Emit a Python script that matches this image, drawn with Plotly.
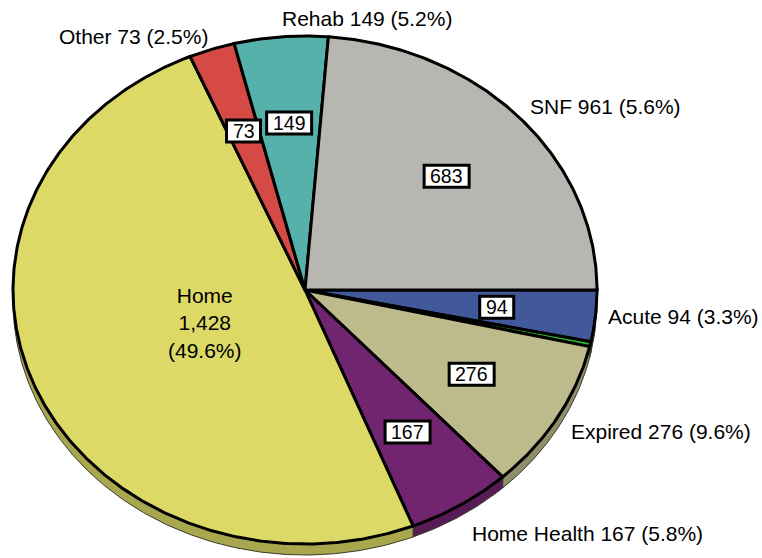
import numpy as np
import plotly.graph_objects as go

# ---- data (clockwise from 3 o'clock) ----
categories = ["Acute", "Unspecified", "Expired", "Home Health", "Home", "Other", "Rehab", "SNF"]
values = [94, 9, 276, 167, 1428, 73, 149, 683]
outer_labels = ["Acute 94 (3.3%)", "", "Expired 276 (9.6%)", "Home Health 167 (5.8%)",
                "", "Other 73 (2.5%)", "Rehab 149 (5.2%)", "SNF 961 (5.6%)"]
box_labels = ["94", "", "276", "167", "", "73", "149", "683"]
center_labels = ["", "", "", "", "Home<br>1,428<br>(49.6%)", "", "", ""]
colors = ["#41599A", "#2DB52D", "#BDBA8B", "#72256F", "#DCD966", "#D54A45", "#55B1A9", "#B8B6B0"]

# ---- geometry (pixel space) ----
W, H = 762, 558
CX, CY = 305, 290
RX, RY = 292, 254
DEPTH = 11
FONT = "Liberation Sans, Arial, sans-serif"


def darker(hexc, f=0.77):
    r, g, b = int(hexc[1:3], 16), int(hexc[3:5], 16), int(hexc[5:7], 16)
    return "rgb(%d,%d,%d)" % (r * f, g * f, b * f)


total = float(sum(values))
cum = np.concatenate([[0], np.cumsum(values)]) / total * 360.0

fig = go.Figure()

# rims (visible lower half: angles 0..180, screen y down)
for i, v in enumerate(values):
    a, b = max(cum[i], 0), min(cum[i + 1], 180)
    if b <= a:
        continue
    t = np.radians(np.linspace(a, b, max(int((b - a) * 2), 2)))
    xt = CX + RX * np.cos(t)
    yt = CY + RY * np.sin(t)
    xs = np.concatenate([xt, xt[::-1], xt[:1]])
    ys = np.concatenate([yt, yt[::-1] + DEPTH, yt[:1]])
    fig.add_trace(go.Scatter(x=xs, y=ys, mode="lines", fill="toself",
                             fillcolor=darker(colors[i]),
                             line=dict(color="#3a3a2a", width=1),
                             hoverinfo="skip", showlegend=False))

# top faces
for i, v in enumerate(values):
    a, b = cum[i], cum[i + 1]
    t = np.radians(np.linspace(a, b, max(int((b - a) * 2), 2)))
    xs = np.concatenate([[CX], CX + RX * np.cos(t), [CX]])
    ys = np.concatenate([[CY], CY + RY * np.sin(t), [CY]])
    fig.add_trace(go.Scatter(x=xs, y=ys, mode="lines", fill="toself",
                             fillcolor=colors[i], line=dict(color="black", width=3),
                             name=categories[i], hoverinfo="name", showlegend=False))

annotations = []
shapes = []
for i, v in enumerate(values):
    mid = np.radians((cum[i] + cum[i + 1]) / 2)
    c, s = np.cos(mid), np.sin(mid)
    # boxed value labels
    if box_labels[i]:
        bx = CX + RX * 0.66 * c
        by = CY + RY * 0.66 * s
        w = 11 * len(box_labels[i]) + 12
        shapes.append(dict(type="rect", xref="x", yref="y", xsizemode="pixel", ysizemode="pixel",
                           xanchor=bx, yanchor=by, x0=-w / 2, x1=w / 2, y0=-11, y1=11,
                           fillcolor="white", line=dict(color="black", width=3)))
        annotations.append(dict(x=bx, y=by, text=box_labels[i], showarrow=False,
                                font=dict(family=FONT, size=19.5, color="black"),
                                xanchor="center", yanchor="middle"))
    if center_labels[i]:
        annotations.append(dict(x=CX + RX * 0.37 * c, y=CY + RY * 0.37 * s - 3,
                                text=center_labels[i], showarrow=False,
                                font=dict(family=FONT, size=21, color="black"),
                                xanchor="center", yanchor="middle"))
    if outer_labels[i]:
        r = 1.02
        ox = CX + RX * (r + 0.02 * max(s, 0)) * c + (4 if c > 0.3 else 0)
        oy = CY + RY * r * s + (DEPTH if s > 0.3 else 0) + (6 if s < -0.5 and abs(c) > 0.2 else 0)
        xa = "left" if c > -0.1 else "right"
        ya = "bottom" if s < -0.5 else ("top" if s > 0.6 else "middle")
        annotations.append(dict(x=ox, y=oy, text=outer_labels[i], showarrow=False,
                                font=dict(family=FONT, size=21, color="black"),
                                xanchor=xa, yanchor=ya))

fig.update_layout(
    width=W, height=H,
    margin=dict(l=0, r=0, t=0, b=0),
    paper_bgcolor="white", plot_bgcolor="white",
    xaxis=dict(range=[0, W], visible=False, fixedrange=True),
    yaxis=dict(range=[H, 0], visible=False, fixedrange=True),
    shapes=shapes, annotations=annotations,
    showlegend=False,
)

fig.write_html("out.html", config={"displayModeBar": False},
               post_script="document.body.style.margin='0';")
